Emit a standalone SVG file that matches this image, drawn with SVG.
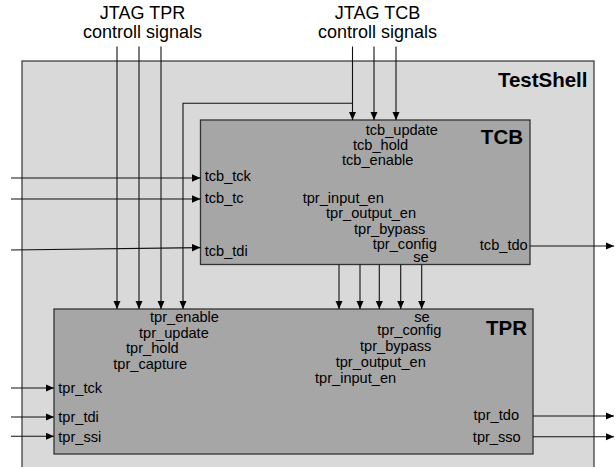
<svg xmlns="http://www.w3.org/2000/svg" width="615" height="467" viewBox="0 0 615 467">
  <defs>
    <marker id="arrow" markerUnits="userSpaceOnUse" markerWidth="9" markerHeight="8" refX="8.5" refY="3.75" orient="auto">
      <path d="M0,0 L8.5,3.75 L0,7.5 z" fill="#000"/>
    </marker>
    <style>
      text { font-family: "Liberation Sans", Arial, sans-serif; fill: #000; }
      .sig { font-size: 14.6px; }
      .title { font-size: 20.5px; font-weight: bold; }
      .head { font-size: 18px; text-anchor: middle; }
      .shell { fill: #d9d9d9; stroke: #404040; stroke-width: 1.3; }
      .block { fill: #a6a6a6; stroke: #333; stroke-width: 1.3; }
      .wire { stroke: #111; stroke-width: 1.1; fill: none; }
      .arr { marker-end: url(#arrow); }
      .end { text-anchor: end; }
    </style>
  </defs>

  <!-- external signal headings -->
  <g id="tpr-ctrl-heading">
    <text class="head" x="142.5" y="19">JTAG TPR</text>
    <text class="head" x="142.5" y="38">controll signals</text>
  </g>
  <g id="tcb-ctrl-heading">
    <text class="head" x="377.5" y="19">JTAG TCB</text>
    <text class="head" x="377.5" y="38">controll signals</text>
  </g>

  <!-- wrapper -->
  <g id="testshell">
    <rect class="shell" x="22" y="61" width="572" height="420"/>
    <text class="title end" x="587.5" y="87">TestShell</text>
  </g>

  <!-- test control block -->
  <g id="tcb">
    <rect class="block" x="200.5" y="120" width="329.5" height="144.5"/>
    <text class="title end" x="523" y="143.5">TCB</text>
    <text class="sig" x="365.7" y="135">tcb_update</text>
    <text class="sig" x="353" y="150">tcb_hold</text>
    <text class="sig" x="342" y="165">tcb_enable</text>
    <text class="sig" x="302.7" y="202.7">tpr_input_en</text>
    <text class="sig" x="326" y="218.3">tpr_output_en</text>
    <text class="sig" x="354" y="233.5">tpr_bypass</text>
    <text class="sig" x="372.7" y="248.5">tpr_config</text>
    <text class="sig" x="413.3" y="262.3">se</text>
    <text class="sig" x="204.7" y="181">tcb_tck</text>
    <text class="sig" x="204.7" y="203.3">tcb_tc</text>
    <text class="sig" x="204.7" y="255.7">tcb_tdi</text>
    <text class="sig end" x="527.7" y="250">tcb_tdo</text>
  </g>

  <!-- test port register -->
  <g id="tpr">
    <rect class="block" x="54" y="309" width="479" height="145"/>
    <text class="title end" x="527" y="335">TPR</text>
    <text class="sig" x="150" y="322.3">tpr_enable</text>
    <text class="sig" x="139" y="337.5">tpr_update</text>
    <text class="sig" x="126" y="353.3">tpr_hold</text>
    <text class="sig" x="113.3" y="368.7">tpr_capture</text>
    <text class="sig" x="58.3" y="392.7">tpr_tck</text>
    <text class="sig" x="58.3" y="421.7">tpr_tdi</text>
    <text class="sig" x="58.3" y="441.7">tpr_ssi</text>
    <text class="sig" x="414.3" y="322">se</text>
    <text class="sig" x="377.3" y="335.3">tpr_config</text>
    <text class="sig" x="360" y="351">tpr_bypass</text>
    <text class="sig" x="335.7" y="366.7">tpr_output_en</text>
    <text class="sig" x="315" y="383.3">tpr_input_en</text>
    <text class="sig end" x="519" y="420">tpr_tdo</text>
    <text class="sig end" x="520.7" y="441.7">tpr_sso</text>
  </g>

  <!-- connectors -->
  <g id="connectors">
    <!-- JTAG TPR control signals -->
    <line class="wire arr" x1="117" y1="46.5" x2="117" y2="309"/>
    <line class="wire arr" x1="139" y1="46.5" x2="139" y2="309"/>
    <line class="wire arr" x1="161" y1="46.5" x2="161" y2="309"/>
    <!-- shared enable: from the TCB control line over to the TPR -->
    <polyline class="wire arr" points="352.5,103.3 183,103.3 183,309"/>
    <!-- JTAG TCB control signals -->
    <line class="wire arr" x1="352.5" y1="46.5" x2="352.5" y2="120"/>
    <line class="wire arr" x1="374" y1="46.5" x2="374" y2="120"/>
    <line class="wire arr" x1="396" y1="46.5" x2="396" y2="120"/>
    <!-- TCB to TPR -->
    <line class="wire arr" x1="339" y1="264.5" x2="339" y2="309"/>
    <line class="wire arr" x1="360" y1="264.5" x2="360" y2="309"/>
    <line class="wire arr" x1="379.3" y1="264.5" x2="379.3" y2="309"/>
    <line class="wire arr" x1="400.7" y1="264.5" x2="400.7" y2="309"/>
    <line class="wire arr" x1="421.7" y1="264.5" x2="421.7" y2="309"/>
    <!-- TCB inputs -->
    <line class="wire arr" x1="11" y1="178" x2="200.5" y2="178"/>
    <line class="wire arr" x1="11" y1="199" x2="200.5" y2="199"/>
    <line class="wire arr" x1="11" y1="250" x2="200.5" y2="247.6"/>
    <!-- TCB output -->
    <line class="wire arr" x1="530" y1="246" x2="614" y2="246"/>
    <!-- TPR inputs -->
    <line class="wire arr" x1="11" y1="388" x2="54" y2="388"/>
    <line class="wire arr" x1="11" y1="417" x2="54" y2="417"/>
    <line class="wire arr" x1="11" y1="436.3" x2="54" y2="436.3"/>
    <!-- TPR outputs -->
    <line class="wire arr" x1="533" y1="416" x2="614" y2="416"/>
    <line class="wire arr" x1="533" y1="436.7" x2="614" y2="436.7"/>
  </g>
</svg>
